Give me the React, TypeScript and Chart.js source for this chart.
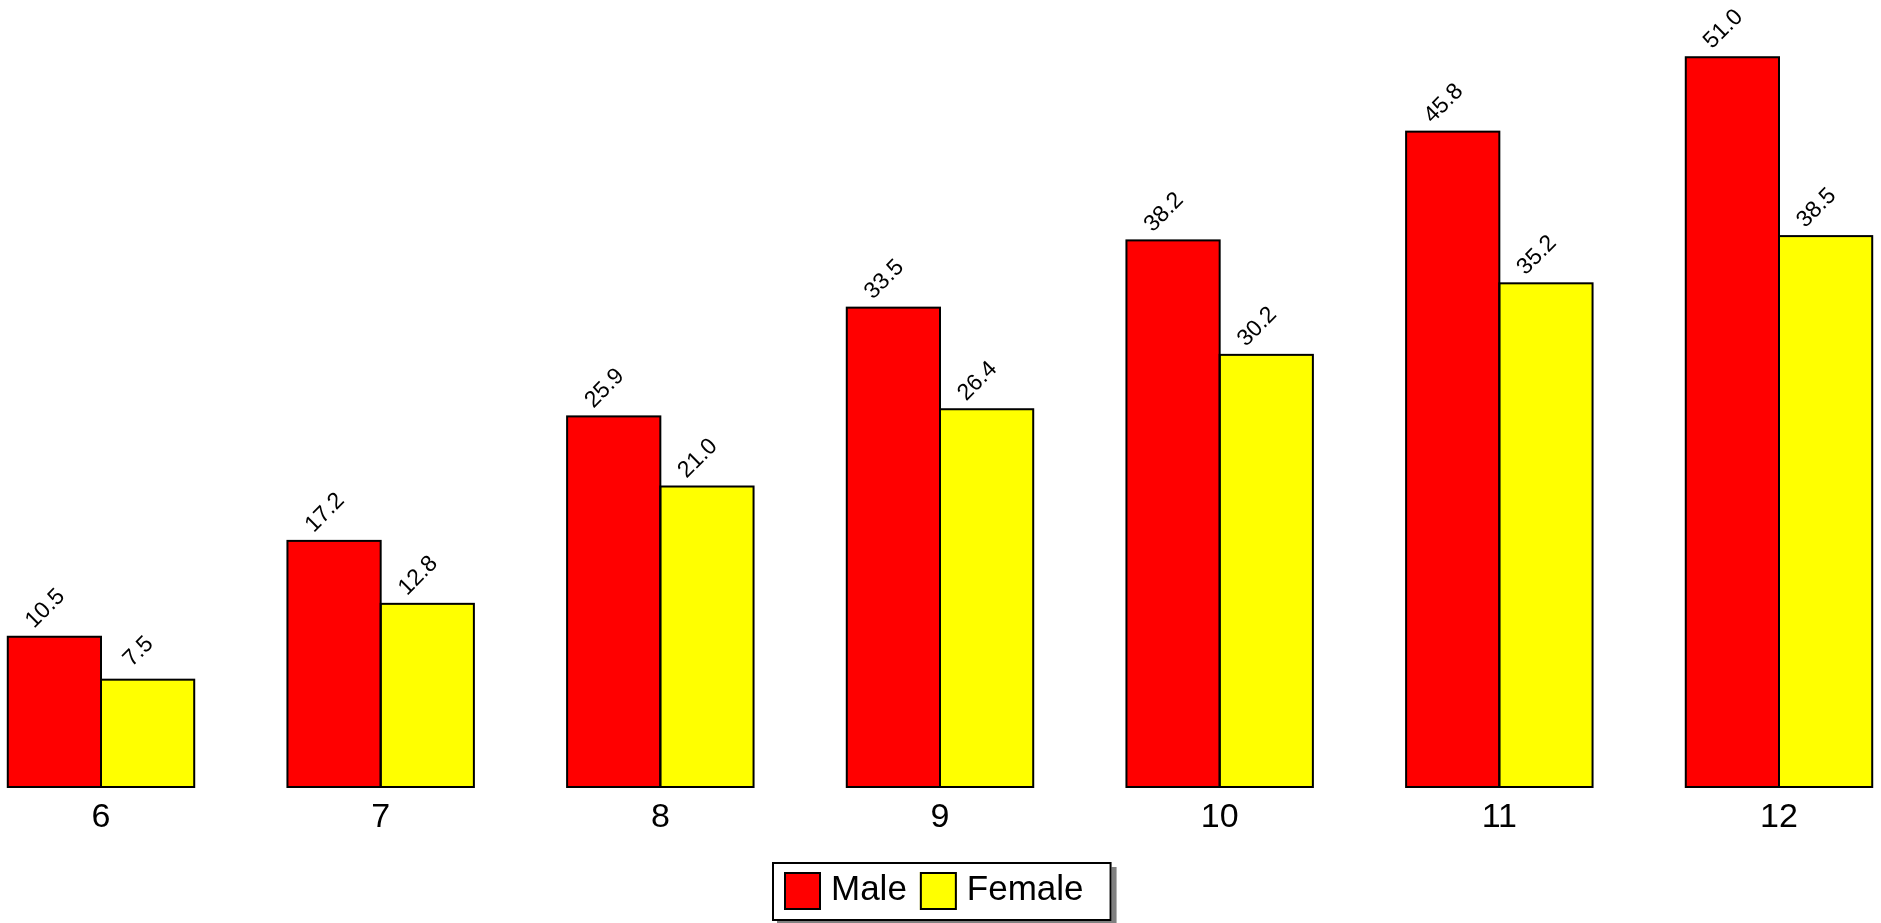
import React, { useEffect, useRef } from "react";
import { Chart, registerables } from "chart.js";

Chart.register(...registerables);

const categories = ["6", "7", "8", "9", "10", "11", "12"];
const maleValues = [10.5, 17.2, 25.9, 33.5, 38.2, 45.8, 51.0];
const femaleValues = [7.5, 12.8, 21.0, 26.4, 30.2, 35.2, 38.5];
const seriesNames = ["Male", "Female"];
const seriesColors = ["#FF0000", "#FFFF00"];

const FONT = "'Liberation Sans', Arial, Helvetica, sans-serif";

const barOutlinePlugin = {
  id: "barOutline",
  afterDatasetsDraw(chart: any) {
    const ctx = chart.ctx;
    ctx.save();
    ctx.strokeStyle = "#000";
    ctx.lineWidth = 2;
    chart.data.datasets.forEach((_ds: any, di: number) => {
      const meta = chart.getDatasetMeta(di);
      meta.data.forEach((bar: any) => {
        const { x, y, base, width } = bar.getProps(["x", "y", "base", "width"], true);
        const left = x - width / 2;
        ctx.strokeRect(left, Math.min(y, base), width, Math.abs(base - y));
      });
    });
    ctx.restore();
  },
};

const valueLabelPlugin = {
  id: "valueLabels",
  afterDatasetsDraw(chart: any) {
    const ctx = chart.ctx;
    ctx.save();
    ctx.font = `23px ${FONT}`;
    ctx.fillStyle = "#000";
    ctx.textAlign = "center";
    ctx.textBaseline = "middle";
    chart.data.datasets.forEach((ds: any, di: number) => {
      const meta = chart.getDatasetMeta(di);
      meta.data.forEach((bar: any, i: number) => {
        const v = ds.data[i];
        const x = bar.x - 9;
        const y = bar.y - 28;
        ctx.save();
        ctx.translate(x, y);
        ctx.rotate(-Math.PI / 4);
        ctx.fillText(Number(v).toFixed(1), 0, 0);
        ctx.restore();
      });
    });
    ctx.restore();
  },
};

const boxLegendPlugin = {
  id: "boxLegend",
  afterDraw(chart: any) {
    const ctx = chart.ctx;
    const fontSize = 35;
    ctx.save();
    ctx.font = `${fontSize}px ${FONT}`;
    const swatchW = 37;
    const swatchH = 38;
    const padL = 12;
    const gapSwatchText = 10;
    const gapItems = 13;
    const padR = 28;
    const items = chart.data.datasets.map((ds: any) => ({
      label: ds.label,
      color: ds.backgroundColor,
      w: ctx.measureText(ds.label).width,
    }));
    let total = padL + padR;
    items.forEach((it: any, i: number) => {
      total += swatchW + gapSwatchText + it.w + (i < items.length - 1 ? gapItems : 0);
    });
    const boxH = 59;
    const boxTop = 862;
    const boxLeft = Math.round(chart.width / 2 - total / 2) + 1;
    ctx.fillStyle = "#808080";
    ctx.fillRect(boxLeft + 5, boxTop + 5, total, boxH);
    ctx.fillStyle = "#FFFFFF";
    ctx.fillRect(boxLeft, boxTop, total, boxH);
    ctx.strokeStyle = "#000";
    ctx.lineWidth = 2;
    ctx.strokeRect(boxLeft + 1, boxTop + 1, total - 2, boxH - 2);
    let x = boxLeft + padL;
    const swTop = boxTop + 10;
    items.forEach((it: any) => {
      ctx.fillStyle = it.color;
      ctx.fillRect(x, swTop, swatchW, swatchH);
      ctx.strokeStyle = "#000";
      ctx.lineWidth = 2;
      ctx.strokeRect(x + 1, swTop + 1, swatchW - 2, swatchH - 2);
      x += swatchW + gapSwatchText;
      ctx.fillStyle = "#000";
      ctx.textAlign = "left";
      ctx.textBaseline = "alphabetic";
      ctx.fillText(it.label, x, boxTop + 38);
      x += it.w + gapItems;
    });
    ctx.restore();
  },
};

export default function App() {
  const canvasRef = useRef<HTMLCanvasElement | null>(null);

  useEffect(() => {
    if (!canvasRef.current) return;
    const chart = new Chart(canvasRef.current, {
      type: "bar",
      data: {
        labels: categories,
        datasets: [
          {
            label: seriesNames[0],
            data: maleValues,
            backgroundColor: seriesColors[0],
            borderWidth: 0,
          },
          {
            label: seriesNames[1],
            data: femaleValues,
            backgroundColor: seriesColors[1],
            borderWidth: 0,
          },
        ],
      },
      options: {
        responsive: false,
        animation: false,
        events: [],
        layout: { padding: { left: 101, right: 102, top: 0, bottom: 86 } },
        datasets: { bar: { barPercentage: 1, categoryPercentage: 2 / 3, clip: false } as any },
        plugins: {
          legend: { display: false },
          tooltip: { enabled: false },
          title: { display: false },
        },
        scales: {
          x: {
            offset: false,
            grid: { display: false, drawTicks: false },
            border: { display: false },
            ticks: {
              color: "#000",
              font: { family: FONT, size: 34 },
              padding: 10,
              maxRotation: 0,
              autoSkip: false,
            },
            afterFit: (scale: any) => {
              scale.height = 50;
            },
          },
          y: {
            display: false,
            min: 0,
            max: 55,
          },
        },
      },
      plugins: [barOutlinePlugin, valueLabelPlugin, boxLegendPlugin],
    });
    return () => chart.destroy();
  }, []);

  return (
    <div style={{ position: "absolute", left: 0, top: 0, width: 1881, height: 923, background: "#fff" }}>
      <canvas ref={canvasRef} width={1881} height={923} style={{ display: "block" }} />
    </div>
  );
}
